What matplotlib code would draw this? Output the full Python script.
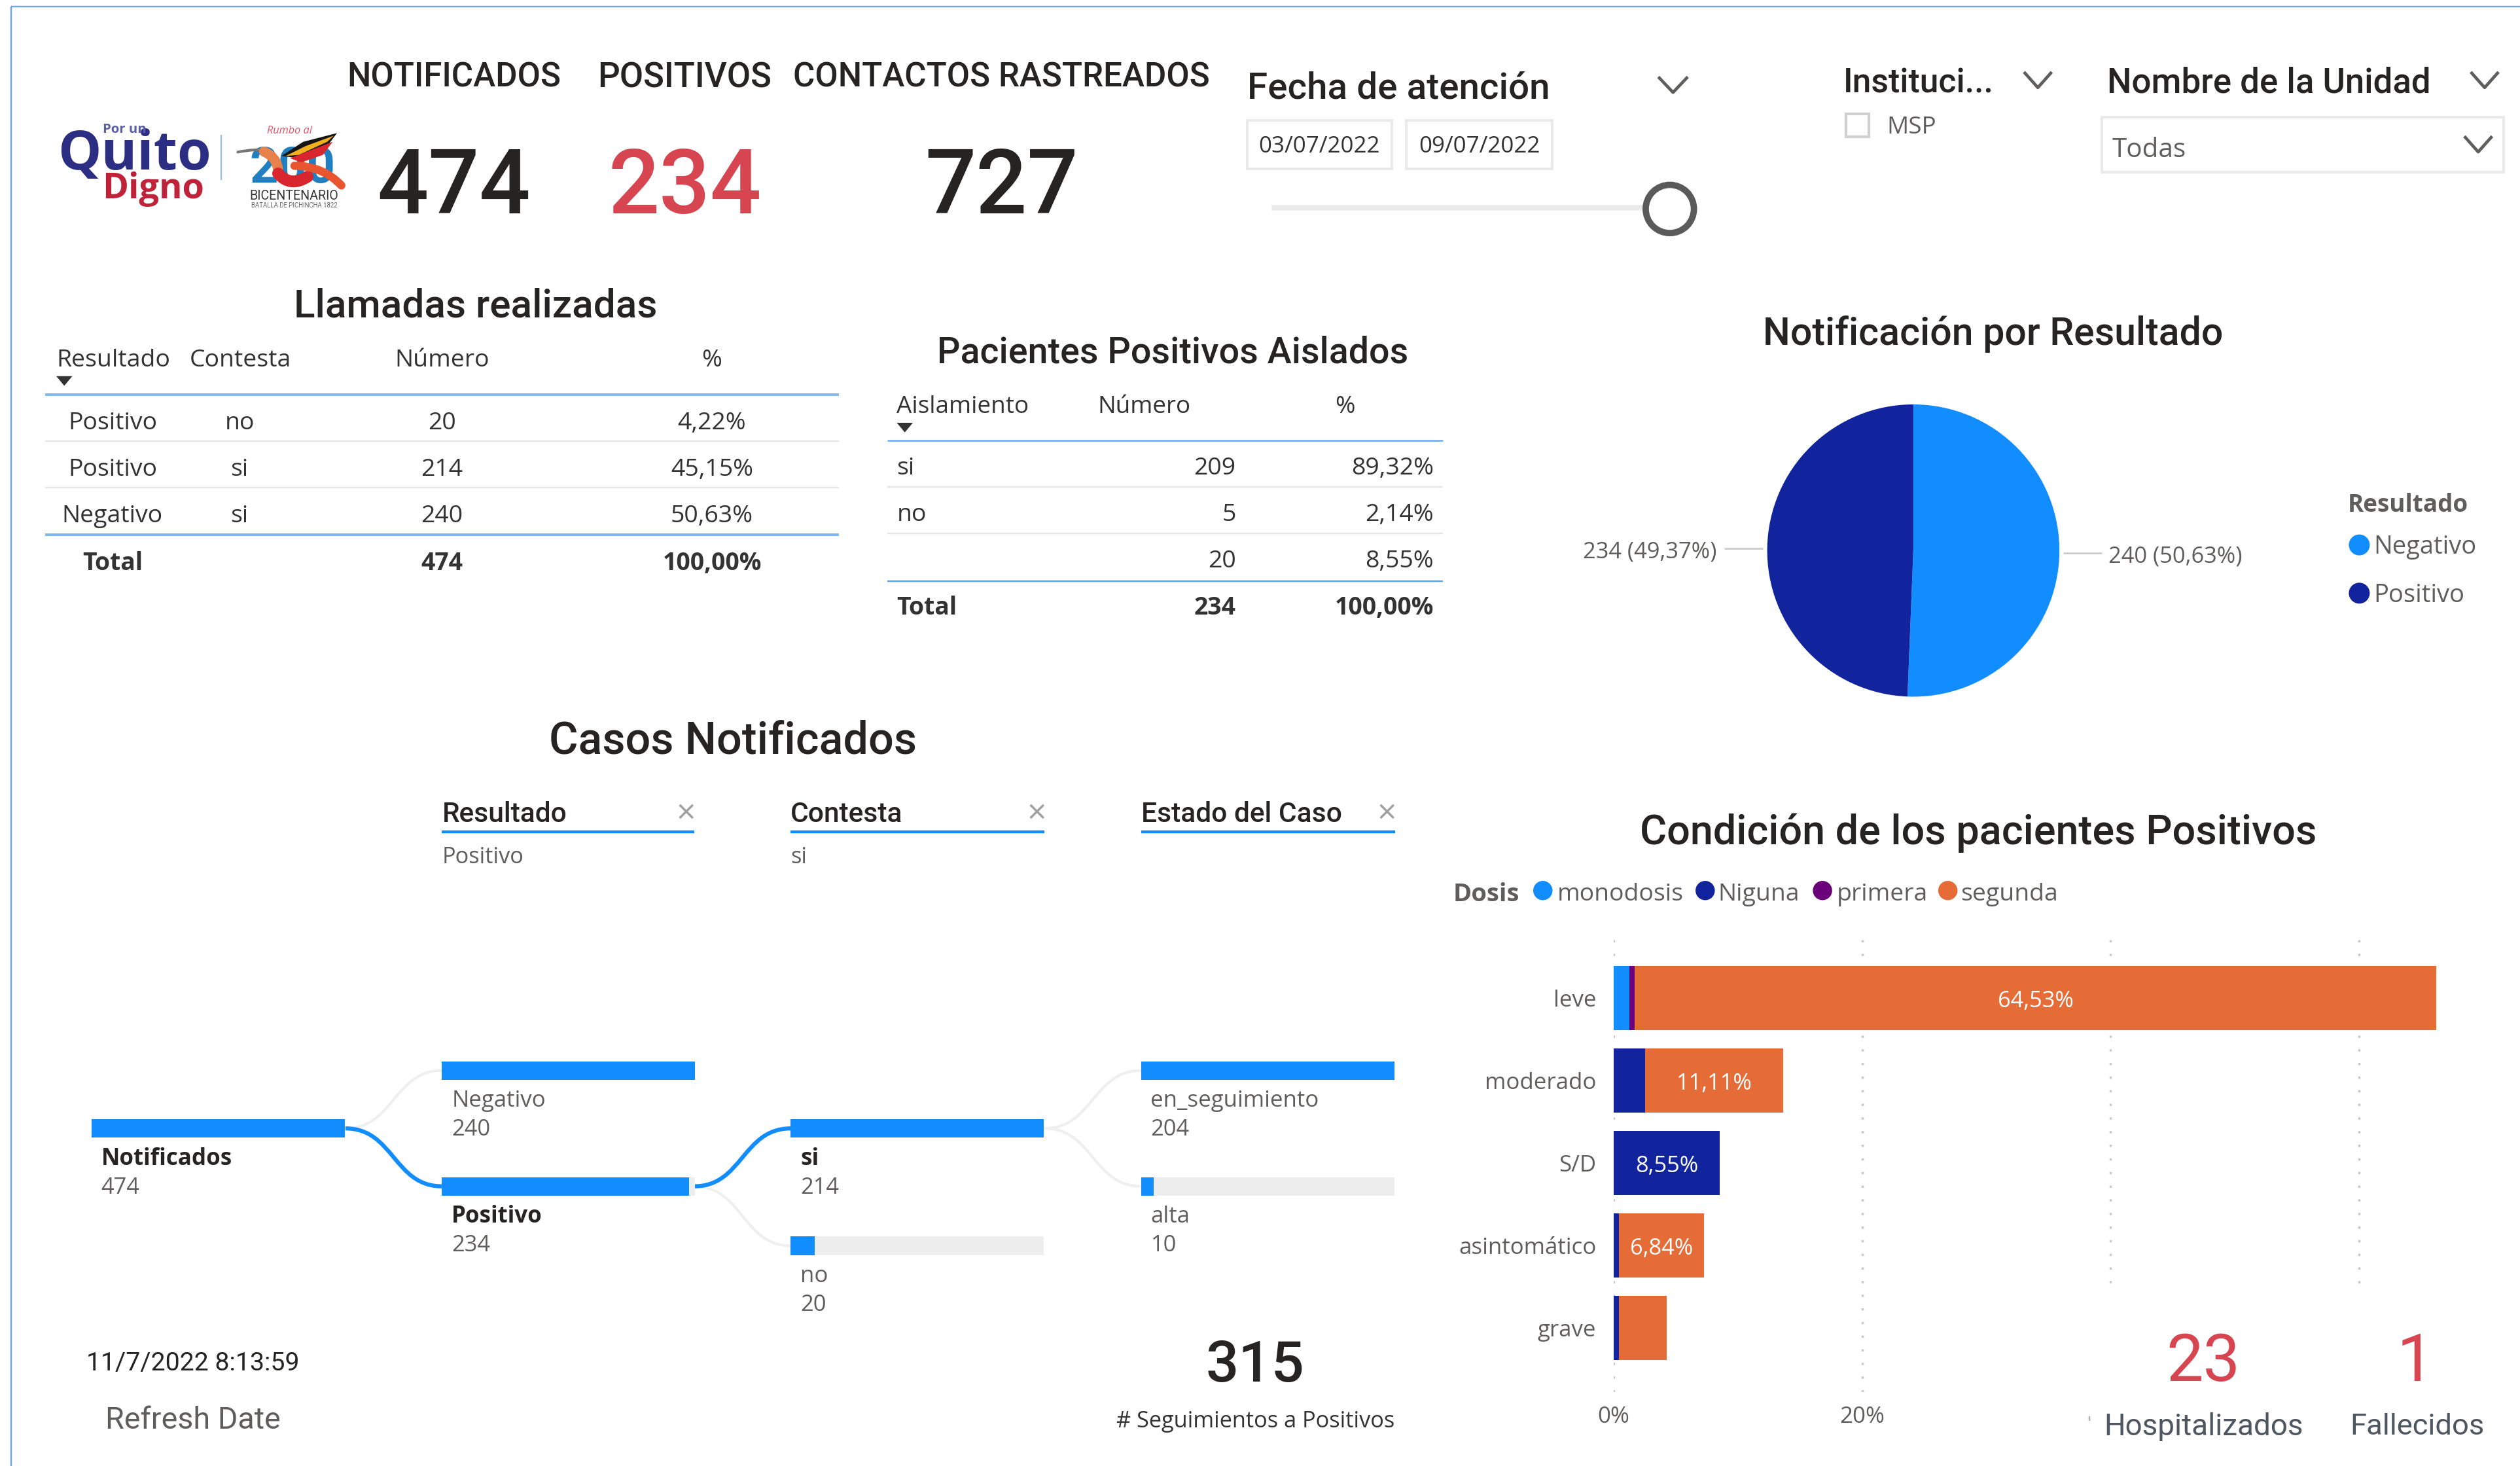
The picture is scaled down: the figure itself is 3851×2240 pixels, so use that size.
import matplotlib
matplotlib.use("Agg")
import matplotlib.pyplot as plt
from matplotlib.patches import Rectangle, Circle, PathPatch, Polygon
from matplotlib.path import Path

# ---------- data ----------
kpi_labels = ["NOTIFICADOS", "POSITIVOS", "CONTACTOS RASTREADOS"]
kpi_values = [474, 234, 727]

calls_header = ["Resultado", "Contesta", "Número", "%"]
calls_result = ["Positivo", "Positivo", "Negativo"]
calls_answer = ["no", "si", "si"]
calls_count = [20, 214, 240]
calls_pct = ["4,22%", "45,15%", "50,63%"]
calls_total = ["Total", "474", "100,00%"]

iso_header = ["Aislamiento", "Número", "%"]
iso_cat = ["si", "no", ""]
iso_count = [209, 5, 20]
iso_pct = ["89,32%", "2,14%", "8,55%"]
iso_total = ["Total", "234", "100,00%"]

pie_labels = ["Negativo", "Positivo"]
pie_values = [240, 234]
pie_texts = ["240 (50,63%)", "234 (49,37%)"]

tree_columns = ["Resultado", "Contesta", "Estado del Caso"]
tree_selected = ["Positivo", "si", ""]
tree_root = ("Notificados", 474)
tree_l1 = [("Negativo", 240), ("Positivo", 234)]
tree_l2 = [("si", 214), ("no", 20)]
tree_l3 = [("en_seguimiento", 204), ("alta", 10)]

conditions = ["leve", "moderado", "S/D", "asintomático", "grave"]
dose_names = ["monodosis", "Niguna", "primera", "segunda"]
monodosis = [1.28, 0, 0, 0, 0]
niguna = [0, 2.56, 8.55, 0.43, 0.43]
primera = [0.43, 0, 0, 0, 0]
segunda = [64.53, 11.11, 0, 6.84, 3.85]
bar_labels = ["64,53%", "11,11%", "8,55%", "6,84%", ""]
x_ticks = [0, 20, 40, 60]
x_ticklabels = ["0%", "20%", "", ""]

followups = 315
hospitalized = 23
deceased = 1
refresh = "11/7/2022 8:13:59"

# ---------- style ----------
BLUE = "#118DFF"; NAVY = "#12239E"; PURPLE = "#6B007B"; ORANGE = "#E66C37"
RED = "#D64550"; DARK = "#252423"; GREY = "#605E5C"; LIGHT = "#E6E6E6"
TITLE = ["Roboto", "DejaVu Sans"]
BODY = ["Open Sans", "DejaVu Sans"]
W, H = 1568, 912
K = 3851 / W * 0.72

fig = plt.figure(figsize=(38.51, 22.40), dpi=100, facecolor="white")

def place(x0, y0, x1, y1, **kw):
    return fig.add_axes([x0 / W, 1 - y1 / H, (x1 - x0) / W, (y1 - y0) / H], **kw)

# ---------- stacked bar ----------
bx = place(1004, 582, 1530, 866)
bx.patch.set_alpha(0)
bx.set_xlim(0, 526 / 154.6 * 20)
bx.set_ylim(4.78, -0.76)
left = [0.0] * 5
for vals, c in zip([monodosis, niguna, primera, segunda], [BLUE, NAVY, PURPLE, ORANGE]):
    bx.barh(range(5), vals, left=left, height=0.78, color=c, zorder=3)
    left = [a + b for a, b in zip(left, vals)]
for i, s in enumerate(bar_labels):
    if s:
        v = segunda[i] if segunda[i] else niguna[i]
        start = left[i] - v
        bx.text(start + v / 2, i + 0.04, s, color="white", ha="center", va="center",
                fontsize=14 * K, family=BODY, zorder=4)
bx.set_yticks(range(5), conditions)
bx.set_xticks(x_ticks, x_ticklabels)
bx.tick_params(axis="both", length=0, colors=GREY, labelsize=14.2 * K)
bx.tick_params(axis="y", pad=19)
bx.tick_params(axis="x", pad=15)
for lab in bx.get_xticklabels() + bx.get_yticklabels():
    lab.set_family(BODY)
bx.grid(axis="x", linestyle=(0, (1, 5)), color="#C8C8C8", linewidth=2.5, zorder=0)
bx.set_axisbelow(True)
for s in bx.spines.values():
    s.set_visible(False)

# ---------- pie ----------
px = place(1190.5 - 92, 342.5 - 92, 1190.5 + 92, 342.5 + 92)
px.pie(pie_values, colors=[BLUE, NAVY], startangle=90, counterclock=False, radius=1.0)
px.set_xlim(-1.012, 1.012); px.set_ylim(-1.012, 1.012)

# ---------- overlay ----------
ov = fig.add_axes([0, 0, 1, 1], zorder=5)
ov.set_xlim(0, W); ov.set_ylim(H, 0); ov.axis("off"); ov.patch.set_alpha(0)

def T(x, y, s, size, color=DARK, ha="left", weight="normal", fam=BODY, **kw):
    if fam is TITLE and weight == "normal":
        weight = 500
    return ov.text(x, y + 0.5 + 0.06 * size, s, fontsize=size * K, color=color, ha=ha,
                   va="center", weight=weight, family=fam, **kw)

def L(xs, ys, color=LIGHT, lw=1.0, **kw):
    ov.plot(xs, ys, color=color, lw=lw * 2.456 * 0.72, solid_capstyle="butt", **kw)

def chevron(x, y, w=8, h=7, color=GREY):
    ov.plot([x - w, x, x + w], [y - h / 2 - 1, y + h / 2 + 1, y - h / 2 - 1], color=color, lw=3.4)

def box(x0, y0, x1, y1, ec="#EAEAEA", fc="white", lw=3, z=2):
    ov.add_patch(Rectangle((x0, y0), x1 - x0, y1 - y0, fc=fc, ec=ec, lw=lw, zorder=z))

# frame
L([7, 7], [4, H], color="#6FA8DC", lw=1)
L([7, W], [4, 4], color="#6FA8DC", lw=1)

# white card over the lower-right gridlines
box(1290, 802, W, H, ec="none", z=1)

# logos
T(36, 94, "Quito", 34, color="#2B2E83", weight="bold", fam=["Open Sans"])
T(127, 116, "Digno", 22, color="#C0223A", ha="right", weight="bold", fam=["Open Sans"])
T(64, 79.5, "Por un", 8.3, color="#5A5FA6", weight="bold", fam=["Open Sans"])
L([137.7, 137.7], [84, 112], color="#9FBFE0", lw=1)
T(180, 80.5, "Rumbo al", 6.6, color="#E2566A", ha="center", style="italic")
T(182, 103, "200", 31, color="#1F7FC0", ha="center", weight="bold", fam=["Roboto"])
T(183, 121, "BICENTENARIO", 8, color="#333333", ha="center", fam=["Roboto"])
T(183, 127, "BATALLA DE PICHINCHA 1822", 3.9, color="#666666", ha="center", fam=["Roboto"])

def Z(zx, zy):
    return ((60 + zx / 3) / 2.456, (170 + zy / 3) / 2.456)

def shape(pts, color):
    ov.add_patch(Polygon([Z(*p) for p in pts], closed=True, fc=color, ec="none", zorder=4))

def stroke(pts, color, lw):
    p = [Z(*q) for q in pts]
    ov.add_patch(PathPatch(Path(p, [Path.MOVETO, Path.CURVE3, Path.CURVE3]),
                           fc="none", ec=color, lw=lw, zorder=4, capstyle="round"))

shape([(1110, 205), (1210, 140), (1365, 100), (1320, 160), (1190, 215)], "#151515")
shape([(1130, 205), (1220, 160), (1350, 112), (1320, 140), (1190, 200)], "#F2B01E")
shape([(1150, 215), (1240, 180), (1345, 140), (1300, 200), (1200, 235)], "#D9262E")
stroke([(910, 187), (1000, 170), (1050, 180)], "#777777", 3)
stroke([(1030, 185), (1100, 215), (1095, 290)], "#E8824A", 11)
stroke([(1095, 285), (1150, 350), (1230, 300)], "#D9262E", 13)
stroke([(1170, 250), (1300, 250), (1385, 340)], "#E8552E", 9)

# KPIs
kcenter = [282.5, 426, 623]
ksize = [20.8, 21.5, 20.8]
for c, sz, s, v, col in zip(kcenter, ksize, kpi_labels, kpi_values, [DARK, RED, DARK]):
    T(c, 46.5, s, sz, ha="center", fam=TITLE)
    T(c, 113.5, str(v), 56, color=col, ha="center", fam=TITLE)

# slicers
T(776, 53, "Fecha de atención", 23, fam=TITLE)
chevron(1041, 53, 8.5, 7)
for (x0, x1), s in zip([(776, 866), (875, 966)], ["03/07/2022", "09/07/2022"]):
    box(x0, 75, x1, 105)
    T((x0 + x1) / 2, 90, s, 14.2, ha="center", color="#333333")
L([791, 1040], [129, 129], color="#EBEBEB", lw=3.5)
ov.add_patch(Circle((1039, 130), 15, fc="white", ec="#5A5A5A", lw=7, zorder=4))
T(1147, 50, "Instituci...", 21, fam=TITLE)
chevron(1268, 50)
box(1148.5, 71, 1163, 85, ec="#D0D0D0")
T(1174, 78, "MSP", 15, color=GREY)
T(1311, 50, "Nombre de la Unidad", 21.5, fam=TITLE)
chevron(1546, 50)
box(1308, 73, 1558, 107)
T(1314, 92, "Todas", 16.5, color=GREY)
chevron(1542, 90)

# table 1
T(296, 188.5, "Llamadas realizadas", 24.5, ha="center", fam=TITLE)
T(35, 223, calls_header[0], 15.2, color="#333333")
T(118, 223, calls_header[1], 15.2, color="#333333")
T(275, 223, calls_header[2], 15.2, ha="center", color="#333333")
T(443, 223, calls_header[3], 15.2, ha="center", color="#333333")
ov.add_patch(Polygon([(35, 234), (45, 234), (40, 240)], fc="#333333", ec="none"))
L([28, 522], [245.5, 245.5], color="#7DB8F2", lw=1.6)
L([28, 522], [274.5, 274.5]); L([28, 522], [303.5, 303.5])
L([28, 522], [332.5, 332.5], color="#7DB8F2", lw=1.6)
for y, a, b, c, d in zip([262, 291, 320], calls_result, calls_answer, calls_count, calls_pct):
    T(70, y, a, 15.2, ha="center", color="#333333")
    T(149, y, b, 15.2, ha="center", color="#333333")
    T(275, y, str(c), 15.2, ha="center", color="#333333")
    T(443, y, d, 15.2, ha="center", color="#333333")
T(70, 349, calls_total[0], 15.2, ha="center", weight="bold", color="#333333")
T(275, 349, calls_total[1], 15.2, ha="center", weight="bold", color="#333333")
T(443, 349, calls_total[2], 15.2, ha="center", weight="bold", color="#333333")

# table 2
T(729.5, 217.5, "Pacientes Positivos Aislados", 22.6, ha="center", fam=TITLE)
T(558, 252, iso_header[0], 15, color="#333333")
T(683, 252, iso_header[1], 15, color="#333333")
T(837, 252, iso_header[2], 15, ha="center", color="#333333")
ov.add_patch(Polygon([(558, 263), (568, 263), (563, 269)], fc="#333333", ec="none"))
L([552, 898], [274, 274], color="#7DB8F2", lw=1.2)
L([552, 898], [303, 303]); L([552, 898], [332, 332])
L([552, 898], [361.5, 361.5], color="#5AA5EE", lw=1)
for y, a, c, d in zip([290, 319, 348], iso_cat, iso_count, iso_pct):
    T(558, y, a, 15.2, color="#333333")
    T(769, y, str(c), 15.2, ha="right", color="#333333")
    T(892, y, d, 15.2, ha="right", color="#333333")
T(558, 377, iso_total[0], 15.2, weight="bold", color="#333333")
T(769, 377, iso_total[1], 15.2, ha="right", weight="bold", color="#333333")
T(892, 377, iso_total[2], 15.2, ha="right", weight="bold", color="#333333")

# pie annotations
T(1240, 206, "Notificación por Resultado", 24, ha="center", fam=TITLE)
T(1312, 345, pie_texts[0], 14, color=GREY)
T(1068, 342, pie_texts[1], 14, color=GREY, ha="right")
L([1284, 1308], [344, 344], color="#CFCFCF", lw=1.2)
L([1073, 1097], [341, 341], color="#CFCFCF", lw=1.2)
T(1461, 313, "Resultado", 15, color=GREY, weight="bold")
for y, s, c in zip([339, 369], pie_labels, [BLUE, NAVY]):
    ov.add_patch(Circle((1468, y), 6.5, fc=c, ec="none"))
    T(1477, y, s, 15.5, color=GREY)

# decomposition tree
T(456, 459, "Casos Notificados", 27.8, ha="center", fam=TITLE)
col_x = [275, 492, 710]
col_end = [432, 650, 868]
for x0, x1, s, sel in zip(col_x, col_end, tree_columns, tree_selected):
    T(x0, 505, s, 17.3, fam=TITLE)
    L([x0, x1], [517.5, 517.5], color=BLUE, lw=1.8)
    T(x1 - 5, 505, "×", 21, color="#A0A0A0", ha="center")
    if sel:
        T(x0, 532, sel, 14, color=GREY)

BARW = 157.5
def tree_bar(x, yc, frac):
    ov.barh(yc, BARW, left=x, height=11.5, color="#EDEDED", zorder=2)
    ov.barh(yc, BARW * frac, left=x, height=11.5, color=BLUE, zorder=3)

def link(x0, y0, x1, y1, color, lw):
    m = (x0 + x1) / 2
    ov.add_patch(PathPatch(Path([(x0, y0), (m, y0), (m, y1), (x1, y1)],
                                [Path.MOVETO, Path.CURVE4, Path.CURVE4, Path.CURVE4]),
                           fc="none", ec=color, lw=lw, zorder=1))

def node(x, yc, name, val, frac, bold=False):
    tree_bar(x, yc, frac)
    T(x + 6, yc + 17.5, name, 14.2, color=DARK if bold else GREY, weight="bold" if bold else "normal")
    T(x + 6, yc + 35.5, str(val), 14, color=GREY)

node(57, 702, tree_root[0], tree_root[1], 1.0, True)
m1 = max(v for _, v in tree_l1)
node(275, 666, tree_l1[0][0], tree_l1[0][1], tree_l1[0][1] / m1)
node(275, 738, tree_l1[1][0], tree_l1[1][1], tree_l1[1][1] / m1, True)
m2 = max(v for _, v in tree_l2)
node(492, 702, tree_l2[0][0], tree_l2[0][1], tree_l2[0][1] / m2, True)
node(492, 775, tree_l2[1][0], tree_l2[1][1], tree_l2[1][1] / m2)
m3 = max(v for _, v in tree_l3)
node(710, 666, tree_l3[0][0], tree_l3[0][1], tree_l3[0][1] / m3)
node(710, 738, tree_l3[1][0], tree_l3[1][1], tree_l3[1][1] / m3)
link(215, 702, 275, 666, "#EFEFEF", 3)
link(432, 738, 492, 775, "#EFEFEF", 3)
link(650, 702, 710, 666, "#EFEFEF", 3)
link(650, 702, 710, 738, "#EFEFEF", 3)
link(215, 702, 275, 738, BLUE, 4.5)
link(432, 738, 492, 702, BLUE, 4.5)

# bottom cards
T(120, 847, refresh, 16, ha="center", fam=TITLE, weight=400)
T(120, 882, "Refresh Date", 19, color=GREY, ha="center", fam=TITLE, weight=400)
T(781, 847, str(followups), 36, ha="center", fam=TITLE)
T(781, 883, "# Seguimientos a Positivos", 14, ha="center", color="#333333")

# condition chart header
T(1231, 516, "Condición de los pacientes Positivos", 25.6, ha="center", fam=TITLE)
T(904, 555, "Dosis", 15.5, color=GREY, weight="bold")
for cx, tx, s, c in zip([960, 1061, 1134, 1212], [969, 1069, 1143, 1220], dose_names,
                        [BLUE, NAVY, PURPLE, ORANGE]):
    ov.add_patch(Circle((cx, 554), 6, fc=c, ec="none"))
    T(tx, 555, s, 15.2, color=GREY)

T(1371, 845, str(hospitalized), 41, color=RED, ha="center", fam=TITLE, weight=400)
T(1503, 845, str(deceased), 41, color=RED, ha="center", fam=TITLE, weight=400)
T(1371, 886, "Hospitalizados", 18.7, color="#4E5660", ha="center", fam=TITLE, weight=400)
T(1504, 886, "Fallecidos", 18.5, color="#4E5660", ha="center", fam=TITLE, weight=400)
L([1300, 1300], [881, 884], color="#B0B0B0", lw=1)

fig.savefig("out.png", dpi=100, facecolor="white")
